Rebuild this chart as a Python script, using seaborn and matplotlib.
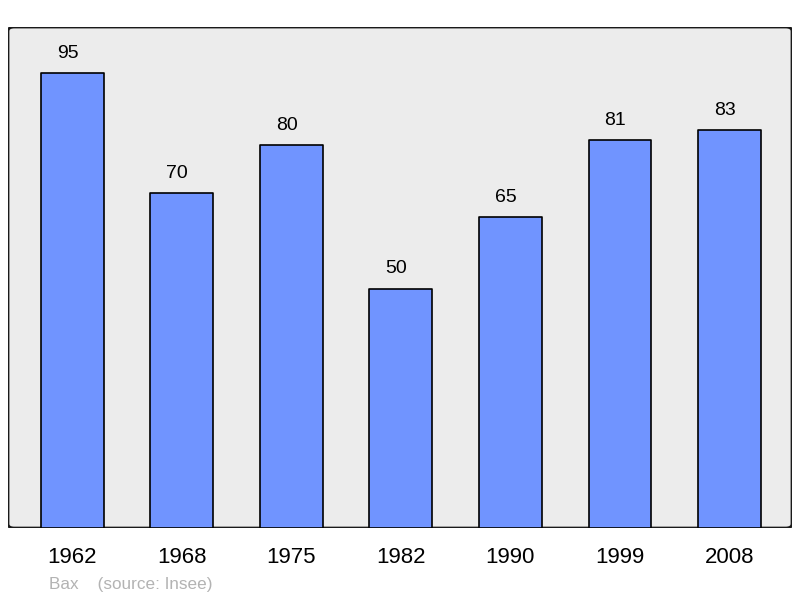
import matplotlib.pyplot as plt
import seaborn as sns
from matplotlib.patches import FancyBboxPatch

years = ["1962", "1968", "1975", "1982", "1990", "1999", "2008"]
population = [95, 70, 80, 50, 65, 81, 83]

sns.set_style("white")
plt.rcParams["font.family"] = ["Liberation Sans", "DejaVu Sans"]
plt.rcParams["text.color"] = "black"
plt.rcParams["xtick.color"] = "black"

fig = plt.figure(figsize=(8, 5.98), dpi=100)
ax = fig.add_axes([0.01, 0.117, 0.98, 0.8378])

sns.barplot(x=years, y=population, ax=ax, color="#7094ff", saturation=1,
            width=0.573, edgecolor="black", linewidth=1.2, zorder=3)
for bar in ax.patches:
    bar.set_joinstyle("round")

# labels sit a little left of the bar centre, as in the original
for i, v in enumerate(population):
    ax.annotate(str(v), (i, v), xytext=(-3.3, 8), textcoords="offset points",
                ha="center", va="bottom", fontsize=14)

ax.set_ylim(0, 104.6)
ax.set_xlim(-0.586, 6.57)
ax.set_facecolor("none")
ax.set_yticks([])
ax.tick_params(axis="x", length=0, labelsize=16, pad=14, labelcolor="black")
ax.set(xlabel=None, ylabel=None)
for s in ax.spines.values():
    s.set_visible(False)

frame = FancyBboxPatch((0, 0), 1, 1, boxstyle="round,pad=0,rounding_size=0.008",
                       transform=ax.transAxes, facecolor="#ececec",
                       edgecolor="#1a1a1a", linewidth=2, zorder=0)
ax.add_patch(frame)

fig.text(49 / 800, 1 - 584 / 598, "Bax    (source: Insee)", color="#b3b3b3",
         fontsize=12.3, va="center", ha="left")

fig.savefig("out.png", dpi=100)
